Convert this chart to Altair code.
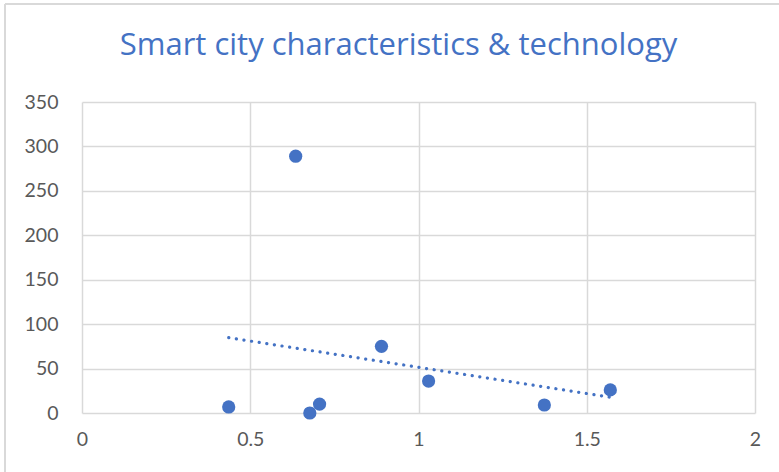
import altair as alt
import pandas as pd

# Observations: characteristic score (x) vs technology count (y)
x_vals = [0.436, 0.635, 0.677, 0.706, 0.89, 1.03, 1.374, 1.57]
y_vals = [6.8, 289, 0, 10, 75, 36, 9, 26]

x_ticks = [0, 0.5, 1, 1.5, 2]
y_ticks = [0, 50, 100, 150, 200, 250, 300, 350]

df = pd.DataFrame({"x": x_vals, "y": y_vals})

BLUE = "#4472C4"
GRID = "#d9d9d9"
FONT = "Lato"

x_enc = alt.X(
    "x:Q",
    scale=alt.Scale(domain=[0, 2], nice=False),
    axis=alt.Axis(values=x_ticks, title=None, labelExpr="datum.value + ''"),
)
y_enc = alt.Y(
    "y:Q",
    scale=alt.Scale(domain=[0, 350], nice=False),
    axis=alt.Axis(values=y_ticks, title=None),
)

points = alt.Chart(df).mark_circle(size=175, color=BLUE, opacity=1).encode(x=x_enc, y=y_enc)

# Linear trendline over the observed x range
trend = (
    alt.Chart(df)
    .transform_regression("x", "y")
    .mark_line(color=BLUE, strokeWidth=3.2, strokeDash=[0.1, 7.6], strokeCap="round")
    .encode(x="x:Q", y="y:Q")
)

# Outer chart frame edges (left and top)
frame_left = alt.Chart(df).mark_rule(color=GRID, strokeWidth=2).encode(
    x=alt.value(-77), y=alt.value(-98), y2=alt.value(380)
)
frame_top = alt.Chart(df).mark_rule(color=GRID, strokeWidth=2).encode(
    x=alt.value(-77), x2=alt.value(700), y=alt.value(-98)
)

chart = (
    alt.layer(frame_left, frame_top, trend, points)
    .properties(
        width=673,
        height=311,
        autosize=alt.AutoSizeParams(type="none"),
        padding={"left": 82, "top": 102, "right": 24, "bottom": 59},
        title=alt.Title(
            "Smart city characteristics & technology",
            font="Open Sans",
            fontSize=31,
            fontWeight="normal",
            color=BLUE,
            anchor="middle",
            baseline="alphabetic",
            offset=0,
            dy=83,
            dx=-20,
        ),
    )
    .configure_view(stroke=None)
    .configure_axis(
        grid=True,
        gridColor=GRID,
        gridWidth=1.5,
        domain=False,
        ticks=False,
        labelFont=FONT,
        labelFontSize=19.5,
        labelColor="#595959",
        labelFlush=False,
    )
    .configure_axisY(labelPadding=24)
    .configure_axisX(labelPadding=17)
)

chart.save("out.html", embed_options={"renderer": "svg", "actions": False})
